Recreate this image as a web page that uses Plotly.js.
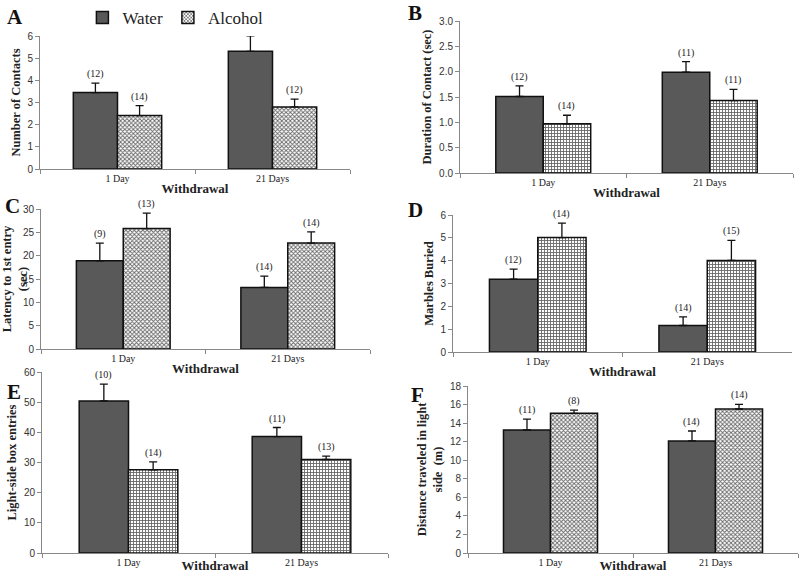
<!DOCTYPE html>
<html lang="en">
<head>
    <meta charset="UTF-8">
    <title>Withdrawal behaviour panels</title>
    <script src="https://cdn.plot.ly/plotly-3.0.0.min.js" charset="utf-8"></script>
    <style>
        body { margin: 0; background: #fff; }
        #plot { width: 800px; height: 573px; }
    </style>
</head>
<body>
<div id="plot"></div>
<script>
    // Categories shared by every panel
    const categories = ['1 Day', '21 Days'];

    // A - Number of Contacts
    const waterA = [3.45, 5.31];
    const waterErrA = [0.42, 0.70];
    const alcoholA = [2.41, 2.80];
    const alcoholErrA = [0.45, 0.35];
    const waterNA = [12, 14];
    const alcoholNA = [14, 12];

    // B - Duration of Contact (sec)
    const waterB = [1.51, 1.99];
    const waterErrB = [0.21, 0.21];
    const alcoholB = [0.97, 1.43];
    const alcoholErrB = [0.17, 0.22];
    const waterNB = [12, 11];
    const alcoholNB = [14, 11];

    // C - Latency to 1st entry (sec)
    const waterC = [18.9, 13.2];
    const waterErrC = [3.8, 2.4];
    const alcoholC = [25.8, 22.7];
    const alcoholErrC = [3.3, 2.4];
    const waterNC = [9, 14];
    const alcoholNC = [13, 14];

    // D - Marbles Buried
    const waterD = [3.19, 1.16];
    const waterErrD = [0.44, 0.38];
    const alcoholD = [5.01, 4.01];
    const alcoholErrD = [0.63, 0.88];
    const waterND = [12, 14];
    const alcoholND = [14, 15];

    // E - Light-side box entries
    const waterE = [50.4, 38.6];
    const waterErrE = [5.6, 3.0];
    const alcoholE = [27.6, 31.0];
    const alcoholErrE = [2.6, 1.1];
    const waterNE = [10, 11];
    const alcoholNE = [14, 13];

    // F - Distance traveled in light side (m)
    const waterF = [13.26, 12.08];
    const waterErrF = [1.18, 1.07];
    const alcoholF = [15.05, 15.52];
    const alcoholErrF = [0.36, 0.50];
    const waterNF = [11, 14];
    const alcoholNF = [8, 14];

    const panels = [
        { letter: 'A', title: 'Number of Contacts', range: [0, 6], dtick: 1, fmt: '',
          water: waterA, waterErr: waterErrA, alcohol: alcoholA, alcoholErr: alcoholErrA,
          waterN: waterNA, alcoholN: alcoholNA, shape: 'x',
          xd: [40, 350], yd: [36, 169], letterPos: [15, 17] },
        { letter: 'B', title: 'Duration of Contact (sec)', range: [0, 3], dtick: 0.5, fmt: '.1f',
          water: waterB, waterErr: waterErrB, alcohol: alcoholB, alcoholErr: alcoholErrB,
          waterN: waterNB, alcoholN: alcoholNB, shape: '+',
          xd: [460, 793], yd: [21, 173], letterPos: [415, 13] },
        { letter: 'C', title: 'Latency to 1st entry<br>(sec)', range: [0, 30], dtick: 5, fmt: '',
          water: waterC, waterErr: waterErrC, alcohol: alcoholC, alcoholErr: alcoholErrC,
          waterN: waterNC, alcoholN: alcoholNC, shape: 'x',
          xd: [41, 370], yd: [209, 349], letterPos: [12, 206] },
        { letter: 'D', title: 'Marbles Buried', range: [0, 6], dtick: 1, fmt: '',
          water: waterD, waterErr: waterErrD, alcohol: alcoholD, alcoholErr: alcoholErrD,
          waterN: waterND, alcoholN: alcoholND, shape: '+',
          xd: [453, 792], yd: [215, 352], letterPos: [415, 210] },
        { letter: 'E', title: 'Light-side box entries', range: [0, 60], dtick: 10, fmt: '',
          water: waterE, waterErr: waterErrE, alcohol: alcoholE, alcoholErr: alcoholErrE,
          waterN: waterNE, alcoholN: alcoholNE, shape: '+',
          xd: [42, 388], yd: [372, 553], letterPos: [14, 392] },
        { letter: 'F', title: 'Distance traveled in light<br>side  (m)', range: [0, 18], dtick: 2, fmt: '',
          water: waterF, waterErr: waterErrF, alcohol: alcoholF, alcoholErr: alcoholErrF,
          waterN: waterNF, alcoholN: alcoholNF, shape: 'x',
          xd: [468, 798], yd: [386, 553], letterPos: [417, 395] }
    ];

    const W = 800, H = 573;
    const bargap = 0.43;
    const offset = (1 - bargap) / 4;
    const serif = '"Liberation Serif", "Times New Roman", serif';

    const traces = [];
    const annotations = [];
    const layout = {
        width: W,
        height: H,
        margin: { l: 0, r: 0, t: 0, b: 0 },
        paper_bgcolor: '#fff',
        plot_bgcolor: '#fff',
        barmode: 'group',
        bargap: bargap,
        bargroupgap: 0,
        font: { family: serif, color: '#222' },
        showlegend: true,
        legend: {
            orientation: 'h',
            x: 0.103, y: 1.0, xanchor: 'left', yanchor: 'top',
            font: { family: serif, size: 17, color: '#222' },
            bgcolor: 'rgba(0,0,0,0)',
            itemwidth: 30,
            tracegroupgap: 0
        }
    };

    panels.forEach((p, i) => {
        const n = i === 0 ? '' : String(i + 1);
        const xa = 'x' + n, ya = 'y' + n;

        traces.push({
            type: 'bar', name: 'Water', x: categories, y: p.water,
            xaxis: xa, yaxis: ya, showlegend: i === 0, legendgroup: 'w',
            marker: { color: '#595959', line: { color: '#111', width: 1.5 } },
            error_y: { type: 'data', array: p.waterErr, arrayminus: [0, 0], symmetric: false,
                       color: '#111', thickness: 1.3, width: 4 },
            hoverinfo: 'y'
        });
        traces.push({
            type: 'bar', name: 'Alcohol', x: categories, y: p.alcohol,
            xaxis: xa, yaxis: ya, showlegend: i === 0, legendgroup: 'a',
            marker: { color: '#fff', line: { color: '#111', width: 1.5 },
                      pattern: { shape: p.shape, fgcolor: '#666', bgcolor: '#fff', size: 3, solidity: 0.5 } },
            error_y: { type: 'data', array: p.alcoholErr, arrayminus: [0, 0], symmetric: false,
                       color: '#111', thickness: 1.3, width: 4 },
            hoverinfo: 'y'
        });

        layout['xaxis' + n] = {
            domain: [p.xd[0] / W, p.xd[1] / W],
            anchor: ya,
            type: 'category',
            range: [-0.5, 1.5],
            showline: true, linecolor: '#888', linewidth: 1,
            ticks: 'outside', tickson: 'boundaries', ticklen: 4, tickcolor: '#888',
            tickfont: { family: serif, size: 10, color: '#222' },
            showgrid: false, zeroline: false, fixedrange: true,
            title: { text: '<b>Withdrawal</b>', font: { family: serif, size: 13, color: '#222' }, standoff: 0 }
        };
        layout['yaxis' + n] = {
            domain: [1 - p.yd[1] / H, 1 - p.yd[0] / H],
            anchor: xa,
            range: p.range, dtick: p.dtick, tickformat: p.fmt,
            showline: true, linecolor: '#888', linewidth: 1,
            ticks: 'outside', ticklen: 4, tickcolor: '#888',
            tickfont: { family: '"Liberation Sans", Arial, sans-serif', size: 10, color: '#333' },
            showgrid: false, zeroline: false, fixedrange: true,
            title: { text: '<b>' + p.title + '</b>', font: { family: serif, size: 12.5, color: '#222' }, standoff: 4 }
        };

        // group sizes above the error bars
        [0, 1].forEach(k => {
            annotations.push({
                xref: xa, yref: ya, x: k - offset, y: p.water[k] + p.waterErr[k],
                text: '(' + p.waterN[k] + ')', showarrow: false, yanchor: 'bottom', yshift: 1,
                font: { family: serif, size: 10, color: '#222' }
            });
            annotations.push({
                xref: xa, yref: ya, x: k + offset, y: p.alcohol[k] + p.alcoholErr[k],
                text: '(' + p.alcoholN[k] + ')', showarrow: false, yanchor: 'bottom', yshift: 1,
                font: { family: serif, size: 10, color: '#222' }
            });
        });

        annotations.push({
            xref: 'paper', yref: 'paper',
            x: p.letterPos[0] / W, y: 1 - p.letterPos[1] / H,
            text: '<b>' + p.letter + '</b>', showarrow: false,
            xanchor: 'center', yanchor: 'middle',
            font: { family: serif, size: 21, color: '#111' }
        });
    });

    layout.annotations = annotations;

    Plotly.newPlot('plot', traces, layout, { displayModeBar: false, staticPlot: true });
</script>
</body>
</html>
